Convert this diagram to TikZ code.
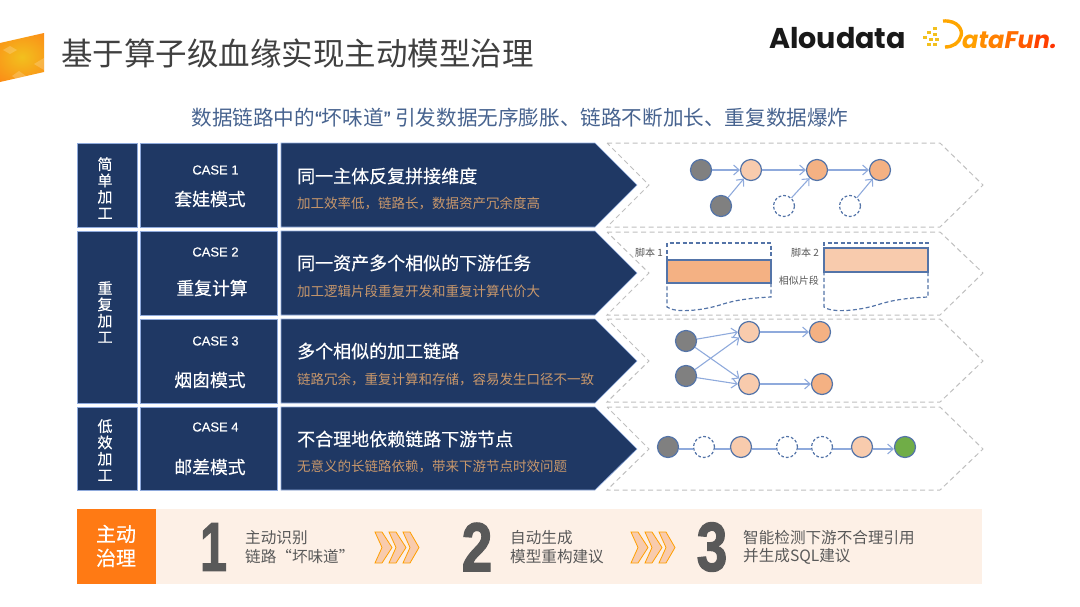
\documentclass[tikz,border=0pt]{standalone}
\usepackage{fontspec}
\setmainfont{Noto Sans CJK SC}
\newfontfamily\midfont{Noto Sans CJK SC}[FakeBold=0.35]
\newfontfamily\casefont{Liberation Sans}[FakeBold=0.3]
\newfontfamily\numfont{Liberation Sans}[BoldFeatures={FakeBold=2}]
\newfontfamily\logofont{Poppins}
\usetikzlibrary{arrows.meta}
\definecolor{navy}{HTML}{1F3864}
\definecolor{rim}{HTML}{8FAADC}
\definecolor{tan}{HTML}{C8976B}
\definecolor{nodeline}{HTML}{5474A8}
\definecolor{inkgray}{HTML}{595959}
\definecolor{peach}{HTML}{F8CBAD}
\definecolor{apricot}{HTML}{F4B183}
\definecolor{leaf}{HTML}{70AD47}
\definecolor{band}{HTML}{FDF0E6}
\definecolor{flame}{HTML}{FF7A14}
\definecolor{gold}{HTML}{F2C01E}
\tikzset{
    boxfill/.style={fill=navy, draw=rim, line width=0.6},
    lane/.style={draw=black!25, line width=1, dash pattern=on 5pt off 3.5pt},
    side/.style={text=white, align=center, font=\midfont\fontsize{15}{16.3}\selectfont},
    casehead/.style={text=white, font=\casefont\fontsize{13}{15}\selectfont},
    casename/.style={text=white, font=\midfont\fontsize{17.8}{20}\selectfont},
    headline/.style={anchor=west, text=white, inner sep=0, font=\midfont\fontsize{18}{20}\selectfont},
    subline/.style={anchor=west, text=tan, inner sep=0, font=\fontsize{13.5}{16}\selectfont},
    dot/.style={circle, minimum size=21, inner sep=0, draw=nodeline, line width=1.2},
    hollow/.style={dot, dash pattern=on 2.8pt off 2pt},
    link/.style={draw=rim, line width=1.1},
    linkto/.style={link, -{Straight Barb[length=5.5pt,width=10pt]}},
    scriptline/.style={draw=nodeline, line width=1.2, dash pattern=on 4pt off 2.5pt},
    small/.style={text=inkgray, inner sep=0, anchor=east, font=\fontsize{10}{11}\selectfont},
    digit/.style={text=inkgray, inner sep=0, font=\numfont\bfseries\fontsize{69}{70}\selectfont},
    stepnote/.style={anchor=west, text=inkgray, inner sep=0, align=left, font=\fontsize{15.6}{18.3}\selectfont},
    wedge/.style={fill=peach, draw=orange!75!yellow, line width=0.8, line join=miter},
}
\begin{document}
\begin{tikzpicture}[x=1pt,y=-1pt]
    \useasboundingbox (0,0) rectangle (1080,606);

    % header
    \begin{scope}
        \clip (0,43) -- (44,33) -- (44,72) -- (0,82) -- cycle;
        \shade[inner color=gold, outer color=flame] (-28,16) rectangle (72,98);
        \fill[white, opacity=0.2] (3,50) -- (10,46) -- (17,50) -- (10,54) -- cycle;
        \fill[white, opacity=0.2] (12,76) -- (19,71) -- (26,76) -- (19,81) -- cycle;
        \fill[white, opacity=0.2] (34,64) -- (44,58) -- (44,70) -- cycle;
    \end{scope}
    \node[anchor=west, inner sep=0, text=black!75] (title) at (61,53) {\fontsize{31.5}{36}\selectfont 基于算子级血缘实现主动模型治理};
    \node[inner sep=0, text=black!90] (aloud) at (837.5,38) {\logofont\bfseries\fontsize{28.6}{30}\selectfont Aloudata};
    \foreach \px/\py in {933/27,927/31,933/33,923/36,929/38,935/38,927/43,933/43}
        \fill[gold] (\px,\py) rectangle ++(3.5,3);
    \draw[draw=orange!70!yellow, line width=3.4] (943,21) .. controls (958,20) and (963,30) .. (961,36) .. controls (959,43) and (953,47) .. (945,47);
    \node[anchor=base west, inner sep=0] (fun) at (962,48) {\logofont\bfseries\itshape\fontsize{24}{26}\selectfont\textcolor{orange!75!yellow}{a}\textcolor{orange!90!yellow}{t}\textcolor{orange}{a}\textcolor{orange!85!red}{F}\textcolor{orange!70!red}{u}\textcolor{orange!50!red}{n}\textcolor{orange!40!red}{.}};
    \node[text=nodeline!85!black, inner sep=0] (lead) at (520,118) {\fontsize{20.6}{22}\selectfont 数据链路中的{\casefont “}坏味道{\casefont ”} 引发数据无序膨胀、链路不断加长、重复数据爆炸};

    % left column
    \draw[boxfill] (77,143) rectangle (137,227);
    \draw[boxfill] (77,231) rectangle (137,403);
    \draw[boxfill] (77,407) rectangle (137,490);
    \node[side] (s1) at (105,188) {简\\单\\加\\工};
    \node[side] (s2) at (105,312) {重\\复\\加\\工};
    \node[side] (s3) at (105,450) {低\\效\\加\\工};

    % case column
    \draw[boxfill] (140.5,143) rectangle (277,227);
    \draw[boxfill] (140.5,231) rectangle (277,315);
    \draw[boxfill] (140.5,319) rectangle (277,403);
    \draw[boxfill] (140.5,407) rectangle (277,490);
    \node[casehead] (k1) at (215.5,170) {CASE 1};
    \node[casename] (n1) at (210,199) {套娃模式};
    \node[casehead] (k2) at (215.5,252) {CASE 2};
    \node[casename] (n2) at (212,288) {重复计算};
    \node[casehead] (k3) at (215.5,341) {CASE 3};
    \node[casename] (n3) at (210,380) {烟囱模式};
    \node[casehead] (k4) at (215.5,427) {CASE 4};
    \node[casename] (n4) at (210,467) {邮差模式};

    % arrows
    \draw[boxfill] (281,143) -- (595,143) -- (637,185) -- (595,227) -- (281,227) -- cycle;
    \draw[boxfill] (281,231) -- (595,231) -- (637,273) -- (595,315) -- (281,315) -- cycle;
    \draw[boxfill] (281,319) -- (595,319) -- (637,361) -- (595,403) -- (281,403) -- cycle;
    \draw[boxfill] (281,407) -- (595,407) -- (637,449) -- (595,490) -- (281,490) -- cycle;
    \node[headline] (h1) at (297,176) {同一主体反复拼接维度};
    \node[subline] (t1) at (297,203) {加工效率低，链路长，数据资产冗余度高};
    \node[headline] (h2) at (297,263) {同一资产多个相似的下游任务};
    \node[subline] (t2) at (297,291) {加工逻辑片段重复开发和重复计算代价大};
    \node[headline] (h3) at (297,351) {多个相似的加工链路};
    \node[subline] (t3) at (297,379) {链路冗余，重复计算和存储，容易发生口径不一致};
    \node[headline] (h4) at (297,439) {不合理地依赖链路下游节点};
    \node[subline] (t4) at (297,466) {无意义的长链路依赖，带来下游节点时效问题};

    % dashed lanes
    \draw[lane] (607,143) -- (940,143) -- (983,185) -- (940,227) -- (607,227) -- (649,185) -- cycle;
    \draw[lane] (607,232) -- (940,232) -- (983,273) -- (940,315) -- (607,315) -- (649,273) -- cycle;
    \draw[lane] (607,319) -- (940,319) -- (983,361) -- (940,402) -- (607,402) -- (649,361) -- cycle;
    \draw[lane] (607,407) -- (940,407) -- (983,449) -- (940,490) -- (607,490) -- (649,449) -- cycle;

    % case 1
    \node[dot, fill=black!50] (a1) at (701,170) {};
    \node[dot, fill=peach] (a2) at (751,170) {};
    \node[dot, fill=apricot] (a3) at (817,170) {};
    \node[dot, fill=apricot] (a4) at (880,170) {};
    \node[dot, fill=black!50] (a5) at (721,206) {};
    \node[hollow] (a6) at (784,206) {};
    \node[hollow] (a7) at (850,206) {};
    \draw[linkto] (a1) -- (a2);
    \draw[linkto] (a2) -- (a3);
    \draw[linkto] (a3) -- (a4);
    \draw[linkto] (a5) -- (a2);
    \draw[linkto] (a6) -- (a3);
    \draw[linkto] (a7) -- (a4);

    % case 2
    \draw[scriptline] (667,260) -- (667,243) -- (771,243) -- (771,260);
    \draw[scriptline] (771,283) -- (771,297) .. controls (750,298) and (735,300) .. (720,305) .. controls (700,311) and (675,313) .. (667,307) -- (667,283);
    \draw[draw=nodeline, line width=1.2, fill=apricot] (667,260) rectangle (771,283);
    \draw[scriptline] (824,272) -- (824,243) -- (928,243) -- (928,248);
    \draw[scriptline] (928,272) -- (928,297) .. controls (907,298) and (892,300) .. (877,305) .. controls (857,311) and (832,313) .. (824,307) -- (824,272);
    \draw[draw=nodeline, line width=1.2, fill=peach] (824,248) rectangle (928,272);
    \node[small] (b1) at (663,253) {脚本 1};
    \node[small] (b2) at (819,253) {脚本 2};
    \node[small] (b3) at (819,281) {相似片段};

    % case 3
    \node[dot, fill=black!50] (c1) at (686,341) {};
    \node[dot, fill=black!50] (c2) at (686,376) {};
    \node[dot, fill=peach] (c3) at (749,332) {};
    \node[dot, fill=peach] (c4) at (749,384) {};
    \node[dot, fill=apricot] (c5) at (820,332) {};
    \node[dot, fill=apricot] (c6) at (822,384) {};
    \draw[linkto] (c1) -- (c3.west);
    \draw[linkto] (c2) -- (c3.210);
    \draw[linkto] (c1) -- (c4.150);
    \draw[linkto] (c2) -- (c4.west);
    \draw[linkto] (c3) -- (c5);
    \draw[linkto] (c4) -- (c6);

    % case 4
    \node[dot, fill=black!50] (e1) at (668,447) {};
    \node[hollow] (e2) at (704,447) {};
    \node[dot, fill=peach] (e3) at (741,447) {};
    \node[hollow] (e4) at (787,447) {};
    \node[hollow] (e5) at (822,447) {};
    \node[dot, fill=peach] (e6) at (862,447) {};
    \node[dot, fill=leaf] (e7) at (905,447) {};
    \draw[link] ([yshift=-2pt]e1.east) -- ([yshift=-2pt]e2.west);
    \draw[link] ([yshift=-2pt]e2.east) -- ([yshift=-2pt]e3.west);
    \draw[link] ([yshift=-2pt]e3.east) -- ([yshift=-2pt]e4.west);
    \draw[link] ([yshift=-2pt]e4.east) -- ([yshift=-2pt]e5.west);
    \draw[link] ([yshift=-2pt]e5.east) -- ([yshift=-2pt]e6.west);
    \draw[linkto] ([yshift=-2pt]e6.east) -- ([yshift=-2pt]e7.west);

    % bottom band
    \fill[band] (77,509) rectangle (982,584);
    \fill[flame] (77,509) rectangle (155.5,584);
    \node[text=white, align=center, font=\midfont\fontsize{20}{24}\selectfont] (m0) at (116,546) {主动\\治理};
    \node[digit] (m1) at (213.5,547) {\scalebox{0.7}[1]{1}};
    \node[stepnote] (m2) at (245,547) {主动识别\\链路“坏味道”};
    \node[digit] (m3) at (477,547) {\scalebox{0.8}[1]{2}};
    \node[stepnote] (m4) at (510,547) {自动生成\\模型重构建议};
    \node[digit] (m5) at (712,547) {\scalebox{0.8}[1]{3}};
    \node[stepnote] (m6) at (743,547) {智能检测下游不合理引用\\并生成SQL建议};
    \draw[wedge] (375,532) -- (382,532) -- (392,547.5) -- (382,563) -- (375,563) -- (382,547.5) -- cycle;
    \draw[wedge] (389,532) -- (396,532) -- (406,547.5) -- (396,563) -- (389,563) -- (396,547.5) -- cycle;
    \draw[wedge] (403,532) -- (410,532) -- (419,547.5) -- (410,563) -- (403,563) -- (410,547.5) -- cycle;
    \draw[wedge] (631,532) -- (638,532) -- (648,547.5) -- (638,563) -- (631,563) -- (638,547.5) -- cycle;
    \draw[wedge] (645,532) -- (652,532) -- (662,547.5) -- (652,563) -- (645,563) -- (652,547.5) -- cycle;
    \draw[wedge] (659,532) -- (666,532) -- (675,547.5) -- (666,563) -- (659,563) -- (666,547.5) -- cycle;
\end{tikzpicture}
\end{document}
